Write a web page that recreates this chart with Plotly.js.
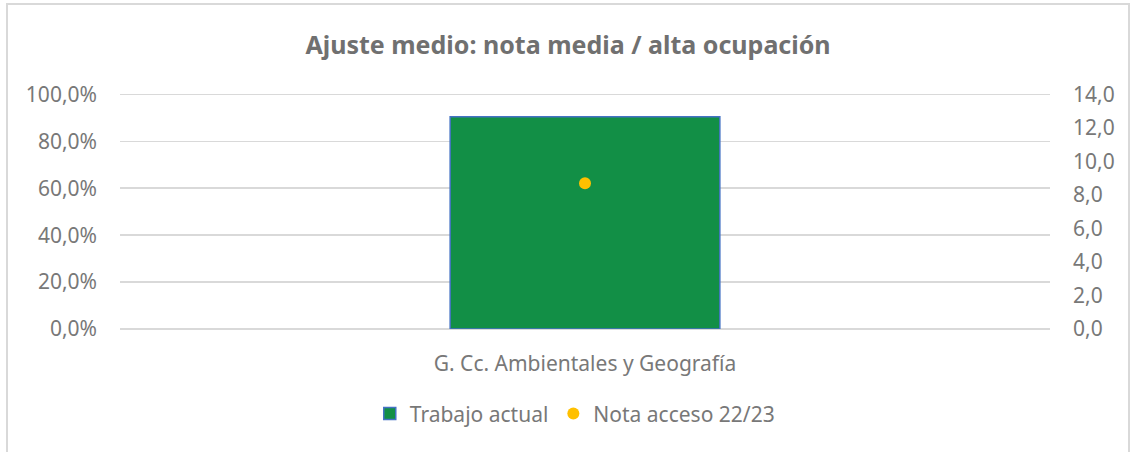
<!DOCTYPE html>
<html>
<head>
<meta charset="utf-8">
<script src="https://cdn.plot.ly/plotly-3.0.1.min.js"></script>
<style>
  html, body { margin: 0; padding: 0; background: #fff; }
  #wrap { position: relative; width: 1136px; height: 452px; overflow: hidden; }
  #frame { position: absolute; left: 6px; top: 3px; width: 1124px; height: 470px; border: 2px solid #d9d9d9; box-sizing: border-box; pointer-events: none; }
  #chart { position: absolute; left: 0; top: 0; width: 1136px; height: 452px; }
</style>
</head>
<body>
<div id="wrap">
  <div id="chart"></div>
  <div id="frame"></div>
</div>
<script>
const categories = ["G. Cc. Ambientales y Geografía"];
const trabajoActual = [0.905];
const notaAcceso = [8.7];
const seriesNames = ["Trabajo actual", "Nota acceso 22/23"];
const chartTitle = "Ajuste medio: nota media / alta ocupación";

const FONT = "Noto Sans, Open Sans, sans-serif";
const GREY = "#787878";
const TS = 21;

const traces = [
  {
    type: "bar",
    name: seriesNames[0],
    x: categories,
    y: trabajoActual,
    width: 0.29,
    marker: { color: "#128f46", line: { color: "#4472c4", width: 1.5 } },
    yaxis: "y",
    hoverinfo: "skip"
  },
  {
    type: "scatter",
    mode: "markers",
    name: seriesNames[1],
    x: categories,
    y: notaAcceso,
    marker: { color: "#ffc000", size: 12 },
    yaxis: "y2",
    hoverinfo: "skip"
  }
];

const EPS = 1.006;
const layout = {
  width: 1136,
  height: 452,
  separators: ",.",
  paper_bgcolor: "rgba(0,0,0,0)",
  plot_bgcolor: "rgba(0,0,0,0)",
  margin: { l: 120, r: 86, t: 93, b: 123 },
  font: { family: FONT, color: GREY, size: TS },
  title: {
    text: "<b>" + chartTitle + "</b>",
    font: { family: FONT, size: 25, color: "#707070" },
    x: 0.5, xanchor: "center",
    y: 1 - 45 / 452, yref: "container", yanchor: "middle"
  },
  showlegend: true,
  legend: {
    orientation: "h",
    x: 0.489, xanchor: "center",
    y: -0.36, yanchor: "middle",
    font: { family: FONT, size: TS, color: GREY },
    itemwidth: 30,
    traceorder: "normal"
  },
  xaxis: {
    type: "category",
    range: [-0.5, 0.5],
    showgrid: false,
    showline: false,
    zeroline: false,
    ticks: "",
    tickfont: { family: FONT, size: TS, color: GREY },
    ticklabelstandoff: 20
  },
  yaxis: {
    range: [0, 1 * EPS],
    dtick: 0.2,
    tick0: 0,
    tickformat: ".1%",
    showgrid: true,
    gridcolor: "#d9d9d9",
    gridwidth: 1.5,
    zeroline: true,
    zerolinecolor: "#d9d9d9",
    zerolinewidth: 1.5,
    showline: false,
    ticks: "",
    ticklabelstandoff: 22,
    tickfont: { family: FONT, size: TS, color: GREY }
  },
  yaxis2: {
    overlaying: "y",
    side: "right",
    range: [0, 14 * EPS],
    dtick: 2,
    tick0: 0,
    tickformat: ".1f",
    showgrid: false,
    zeroline: false,
    showline: false,
    ticks: "",
    ticklabelstandoff: 22,
    tickfont: { family: FONT, size: TS, color: GREY }
  }
};

Plotly.newPlot("chart", traces, layout, { staticPlot: true, displayModeBar: false });
</script>
</body>
</html>
